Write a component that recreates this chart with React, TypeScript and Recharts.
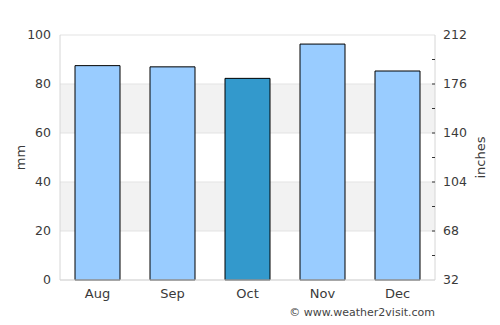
import React from 'react'
import { ComposedChart, Bar, Line, Cell, XAxis, YAxis, CartesianGrid } from 'recharts'

const months = ['Aug', 'Sep', 'Oct', 'Nov', 'Dec']
const rainMm = [87.5, 87, 82.3, 96.3, 85.3]
const highlight = 'Oct'
const mmTicks = [0, 20, 40, 60, 80, 100]
const rightTicks = [32, 50, 68, 86, 104, 122, 140, 158, 176, 194, 212]
const rightLabels = [32, 68, 104, 140, 176, 212]

const data = months.map((m, i) => ({ month: m, mm: rainMm[i] }))

const FONT = '"DejaVu Sans", Verdana, sans-serif'
const TEXT = '#3a3a3a'

// right axis: labels on the majors, small inward dashes on the inner ticks
function RightTick(props: any) {
  const { x, y, payload } = props
  const v = payload.value
  const showDash = v !== 32 && v !== 212
  return (
    <g>
      {showDash && <line x1={x - 11} x2={x - 8} y1={y} y2={y} stroke="#333" />}
      {rightLabels.includes(v) && (
        <text x={x} y={y} dy="0.355em" fill={TEXT} fontSize={12.5} fontFamily={FONT}>
          {v}
        </text>
      )}
    </g>
  )
}

export default function App() {
  return (
    <div style={{ position: 'absolute', left: 0, top: 0, width: 500, height: 325, background: '#fff' }}>
      <ComposedChart
        width={500}
        height={325}
        data={data}
        margin={{ top: 35, right: 0, bottom: 0, left: 0 }}
        barCategoryGap="20%"
      >
        <CartesianGrid
          vertical={false}
          stroke="#e3e3e3"
          horizontalFill={['#ffffff', '#f2f2f2']}
          yAxisId="mm"
        />
        <XAxis
          dataKey="month"
          height={45}
          tickLine={false}
          tickSize={0}
          tickMargin={9}
          axisLine={{ stroke: '#d6d6d6' }}
          tick={{ fill: TEXT, fontSize: 13, fontFamily: FONT }}
        />
        <YAxis
          yAxisId="mm"
          width={60}
          domain={[0, 100]}
          ticks={mmTicks}
          interval={0}
          tickLine={false}
          tickSize={0}
          tickMargin={9}
          axisLine={{ stroke: '#d6d6d6' }}
          tick={{ fill: TEXT, fontSize: 12.5, fontFamily: FONT }}
          label={{ value: 'mm', angle: -90, position: 'center', dx: -10, fill: TEXT, fontSize: 13, fontFamily: FONT }}
        />
        <YAxis
          yAxisId="in"
          orientation="right"
          width={65}
          type="number"
          domain={[32, 212]}
          allowDataOverflow
          ticks={rightTicks}
          interval={0}
          tickLine={false}
          tickSize={0}
          tickMargin={8}
          axisLine={{ stroke: '#d6d6d6' }}
          tick={<RightTick />}
          label={{ value: 'inches', angle: -90, position: 'center', dx: 13, fill: TEXT, fontSize: 13, fontFamily: FONT }}
        />
        <Bar yAxisId="mm" dataKey="mm" stroke="#000" strokeWidth={1} isAnimationActive={false}>
          {data.map((d) => (
            <Cell key={d.month} fill={d.month === highlight ? '#3399cc' : '#99ccff'} />
          ))}
        </Bar>
        {/* invisible series so the right-hand axis gets drawn */}
        <Line
          yAxisId="in"
          dataKey="mm"
          stroke="none"
          dot={false}
          activeDot={false}
          legendType="none"
          isAnimationActive={false}
        />
      </ComposedChart>
      <div
        style={{
          position: 'absolute',
          right: 65,
          top: 306,
          fontFamily: FONT,
          fontSize: 11,
          color: '#444',
          whiteSpace: 'nowrap',
        }}
      >
        © www.weather2visit.com
      </div>
    </div>
  )
}
